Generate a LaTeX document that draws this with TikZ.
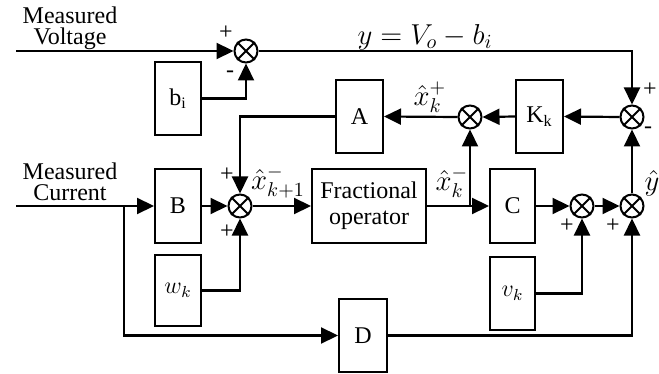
\documentclass[tikz,border=0pt]{standalone}
\usepackage{fontspec}
\setmainfont{Liberation Serif}
\usetikzlibrary{arrows.meta,calc}
\begin{document}
\begin{tikzpicture}[x=0.5pt,y=-0.5pt,
  blk/.style={draw,line width=1pt,inner sep=0pt,font=\fontsize{12}{13}\selectfont},
  sumj/.style={draw,circle,line width=1pt,minimum size=11.5pt,inner sep=0pt},
  sig/.style={line width=1.1pt,-{Triangle[length=8.5pt,width=8pt]}},
  sgn/.style={font=\fontsize{12}{12}\selectfont,inner sep=0pt},
  lbl/.style={font=\fontsize{14.4}{16}\selectfont,inner sep=0pt},
  txt/.style={font=\fontsize{12}{10.5}\selectfont,align=center,inner sep=0pt}]
\useasboundingbox (0,0) rectangle (659,374);
% blocks
\node[blk,minimum width=23pt,minimum height=36.5pt] (bi) at (178,98.5) {b\textsubscript{i}};
\node[blk,minimum width=23.5pt,minimum height=36.5pt] (A) at (359.5,116.5) {A};
\node[blk,minimum width=23.5pt,minimum height=36.5pt] (K) at (539.5,116.5) {K\textsubscript{k}};
\node[blk,minimum width=23pt,minimum height=36.5pt] (B) at (178,206) {B};
\node[blk,minimum width=23pt,minimum height=35.5pt] (wk) at (178,290.5) {$w_k$};
\node[blk,minimum width=57pt,minimum height=36.5pt,align=center] (F) at (369,206) {Fractional\\operator};
\node[blk,minimum width=22.5pt,minimum height=36.5pt] (C) at (512.5,206) {C};
\node[blk,minimum width=22.5pt,minimum height=36.5pt] (vk) at (512.5,293.5) {$v_k$};
\node[blk,minimum width=24pt,minimum height=36.5pt] (D) at (363,335.5) {D};
% summing junctions
\node[sumj] (S1) at (246,51) {};
\node[sumj] (Sr) at (632,117) {};
\node[sumj] (Sm) at (470,117) {};
\node[sumj] (SB) at (240,206) {};
\node[sumj] (S3) at (582,206) {};
\node[sumj] (S4) at (632,206) {};
\foreach \s in {S1,Sr,Sm,SB,S3,S4}
  \draw[line width=1pt] (\s.45)--(\s.225) (\s.135)--(\s.315);
% coordinates
\coordinate (mv) at (16,51);
\coordinate (mc) at (16,206);
\coordinate (br1) at (124,206);
\coordinate (br2) at (470,206);
% connectors
\draw[sig] (mv) -- (S1.west);
\draw[sig] (S1.east) -| (Sr.north);
\draw[sig] (bi.east) -| (S1.south);
\draw[sig] (Sr.west) -- (K.east);
\draw[sig] (K.west) -- (Sm.east);
\draw[sig] (Sm.west) -- (A.east);
\draw[sig] (A.west) -| (SB.north);
\draw[sig] (mc) -- (B.west);
\draw[sig] (br1) |- (D.west);
\draw[sig] (B.east) -- (SB.west);
\draw[sig] (wk.east) -| (SB.south);
\draw[sig] (SB.east) -- (F.west);
\draw[sig] (F.east) -- (C.west);
\draw[sig] (br2) -- (Sm.south);
\draw[sig] (C.east) -- (S3.west);
\draw[sig] (S3.east) -- (S4.west);
\draw[sig] (S4.north) -- (Sr.south);
\draw[sig] (vk.east) -| (S3.south);
\draw[sig] (D.east) -| (S4.south);
% texts
\node[txt] (mvt) at (70,28) {Measured\\Voltage};
\node[txt] (mct) at (70,182) {Measured\\Current};
\node[lbl] (ly) at (425,37) {$y = V_o - b_i$};
\node[lbl] (lxp) at (430,97) {$\hat{x}_k^{+}$};
\node[lbl] (lxk1) at (278,182) {$\hat{x}_{k+1}^{-}$};
\node[lbl] (lxk) at (452,182) {$\hat{x}_k^{-}$};
\node[lbl] (lyh) at (652,183) {$\hat{y}$};
% signs
\node[sgn] (p1) at (226,33) {+};
\node[sgn] (m1) at (230,74) {-};
\node[sgn] (p2) at (650,90) {+};
\node[sgn] (m2) at (648,130) {-};
\node[sgn] (p3) at (227,175) {+};
\node[sgn] (p4) at (227,232) {+};
\node[sgn] (p5) at (567,226) {+};
\node[sgn] (p6) at (613,226) {+};
\end{tikzpicture}
\end{document}
